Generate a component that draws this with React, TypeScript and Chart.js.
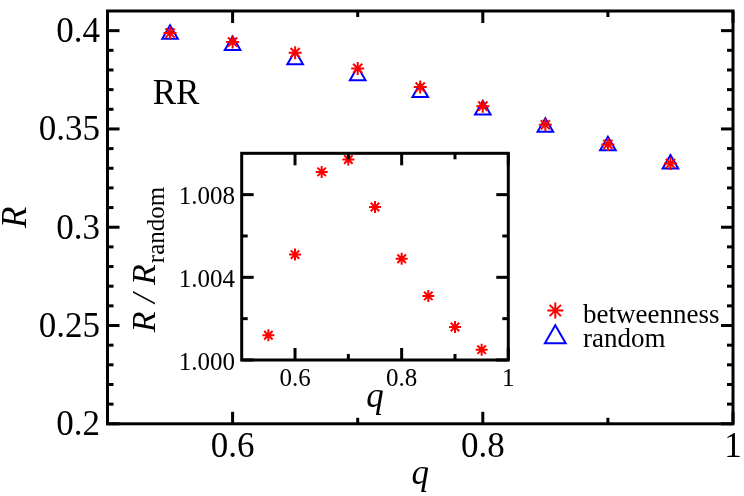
import React, { useEffect, useRef } from 'react';
import { Chart, registerables } from 'chart.js';

Chart.register(...registerables);

// ---- data ----
const qValues = [0.55, 0.6, 0.65, 0.7, 0.75, 0.8, 0.85, 0.9, 0.95];
const betweennessR = [0.3988, 0.3942, 0.3888, 0.3808, 0.3713, 0.3616, 0.3521, 0.3421, 0.3324];
const randomR = [0.3982, 0.3924, 0.3852, 0.377, 0.3685, 0.3597, 0.3509, 0.3415, 0.3322];
const ratioR = [1.0012, 1.0051, 1.0091, 1.0097, 1.0074, 1.0049, 1.0031, 1.0016, 1.0005];

const mainXTicks = [0.6, 0.8, 1];
const mainXTickLabels = ['0.6', '0.8', '1'];
const mainXMinor = [0.7, 0.9];
const mainYTicks = [0.2, 0.25, 0.3, 0.35, 0.4];
const mainYTickLabels = ['0.2', '0.25', '0.3', '0.35', '0.4'];

const insetXTicks = [0.6, 0.8, 1];
const insetXTickLabels = ['0.6', '0.8', '1'];
const insetXMinor = [0.7, 0.9];
const insetYTicks = [1.0, 1.004, 1.008];
const insetYTickLabels = ['1.000', '1.004', '1.008'];
const insetYMinor = [1.002, 1.006];

const seriesNames = ['betweenness', 'random'];

const SERIF = '"Liberation Serif", "Times New Roman", serif';
const RED = '#ff0000';
const BLUE = '#0000ff';

function mainYMinorTicks(): number[] {
  const out: number[] = [];
  for (let i = 21; i < 41; i++) {
    if (i % 5 !== 0) out.push(i / 100);
  }
  return out;
}

type AxisSpec = {
  xMajor: number[];
  xMinor: number[];
  yMajor: number[];
  yMinor: number[];
  xLabels: string[];
  yLabels: string[];
  majorLen: number;
  minorLen: number;
  lineWidth: number;
  font: string;
  xLabelDy: number;
  yLabelGap: number;
  yLabelDy: number;
};

function drawAxes(chart: any, s: AxisSpec) {
  const { ctx, chartArea: a } = chart;
  const xs = chart.scales.x;
  const ys = chart.scales.y;
  ctx.save();
  ctx.strokeStyle = '#000';
  ctx.lineWidth = s.lineWidth;
  ctx.lineCap = 'butt';
  const line = (x1: number, y1: number, x2: number, y2: number) => {
    ctx.beginPath();
    ctx.moveTo(x1, y1);
    ctx.lineTo(x2, y2);
    ctx.stroke();
  };
  const xt = (vals: number[], len: number) => {
    vals.forEach((v) => {
      const px = xs.getPixelForValue(v);
      line(px, a.bottom, px, a.bottom - len);
      line(px, a.top, px, a.top + len);
    });
  };
  const yt = (vals: number[], len: number) => {
    vals.forEach((v) => {
      const py = ys.getPixelForValue(v);
      line(a.left, py, a.left + len, py);
      line(a.right, py, a.right - len, py);
    });
  };
  xt(s.xMajor, s.majorLen);
  xt(s.xMinor, s.minorLen);
  yt(s.yMajor, s.majorLen);
  yt(s.yMinor, s.minorLen);
  ctx.strokeRect(a.left, a.top, a.right - a.left, a.bottom - a.top);

  ctx.fillStyle = '#000';
  ctx.font = s.font;
  ctx.textBaseline = 'alphabetic';
  ctx.textAlign = 'center';
  s.xMajor.forEach((v, i) => {
    ctx.fillText(s.xLabels[i], xs.getPixelForValue(v), a.bottom + s.xLabelDy);
  });
  ctx.textAlign = 'right';
  s.yMajor.forEach((v, i) => {
    ctx.fillText(s.yLabels[i], a.left - s.yLabelGap, ys.getPixelForValue(v) + s.yLabelDy);
  });
  ctx.restore();
}

function drawStar(ctx: CanvasRenderingContext2D, x: number, y: number, r: number) {
  ctx.beginPath();
  for (let k = 0; k < 4; k++) {
    const ang = (k * Math.PI) / 4;
    ctx.moveTo(x - Math.cos(ang) * r, y - Math.sin(ang) * r);
    ctx.lineTo(x + Math.cos(ang) * r, y + Math.sin(ang) * r);
  }
  ctx.stroke();
}

function drawTriangle(ctx: CanvasRenderingContext2D, x: number, y: number, r: number) {
  ctx.beginPath();
  let rad = 0;
  ctx.moveTo(x + Math.sin(rad) * r, y - Math.cos(rad) * r);
  rad += (2 * Math.PI) / 3;
  ctx.lineTo(x + Math.sin(rad) * r, y - Math.cos(rad) * r);
  rad += (2 * Math.PI) / 3;
  ctx.lineTo(x + Math.sin(rad) * r, y - Math.cos(rad) * r);
  ctx.closePath();
  ctx.stroke();
}

const mainPlugin = {
  id: 'mainDecor',
  afterDraw(chart: any) {
    drawAxes(chart, {
      xMajor: mainXTicks,
      xMinor: mainXMinor,
      yMajor: mainYTicks,
      yMinor: mainYMinorTicks(),
      xLabels: mainXTickLabels,
      yLabels: mainYTickLabels,
      majorLen: 12,
      minorLen: 6,
      lineWidth: 3,
      font: `35px ${SERIF}`,
      xLabelDy: 33,
      yLabelGap: 7.5,
      yLabelDy: 11.5,
    });
    const { ctx, chartArea: a } = chart;
    ctx.save();
    ctx.fillStyle = '#000';
    // axis titles
    ctx.font = `italic 35px ${SERIF}`;
    ctx.textAlign = 'center';
    ctx.textBaseline = 'alphabetic';
    ctx.fillText('q', (a.left + a.right) / 2, 484);
    ctx.save();
    ctx.translate(26, (a.top + a.bottom) / 2);
    ctx.rotate(-Math.PI / 2);
    ctx.fillText('R', 0, 0);
    ctx.restore();
    // RR label
    ctx.font = `35px ${SERIF}`;
    ctx.textAlign = 'left';
    ctx.fillText('RR', 152.7, 104.3);
    // legend
    ctx.lineWidth = 2;
    ctx.strokeStyle = RED;
    drawStar(ctx, 555.3, 310.5, 8);
    ctx.strokeStyle = BLUE;
    drawTriangle(ctx, 555.3, 337.2, 12);
    ctx.font = `27px ${SERIF}`;
    ctx.fillStyle = '#000';
    ctx.fillText(seriesNames[0], 583, 323.3);
    ctx.fillText(seriesNames[1], 583, 346.7);
    ctx.restore();
  },
};

const insetPlugin = {
  id: 'insetDecor',
  beforeDraw(chart: any) {
    const { ctx, chartArea: a } = chart;
    ctx.save();
    ctx.fillStyle = '#fff';
    ctx.fillRect(a.left, a.top, a.right - a.left, a.bottom - a.top);
    ctx.restore();
  },
  afterDraw(chart: any) {
    drawAxes(chart, {
      xMajor: insetXTicks,
      xMinor: insetXMinor,
      yMajor: insetYTicks,
      yMinor: insetYMinor,
      xLabels: insetXTickLabels,
      yLabels: insetYTickLabels,
      majorLen: 12,
      minorLen: 6,
      lineWidth: 3,
      font: `25px ${SERIF}`,
      xLabelDy: 26,
      yLabelGap: 6.7,
      yLabelDy: 9.5,
    });
    const { ctx, chartArea: a } = chart;
    ctx.save();
    ctx.fillStyle = '#000';
    ctx.font = `italic 35px ${SERIF}`;
    ctx.textAlign = 'center';
    ctx.textBaseline = 'alphabetic';
    ctx.fillText('q', (a.left + a.right) / 2, 407);
    // y title: R / R_random
    ctx.save();
    ctx.translate(155, 260);
    ctx.rotate(-Math.PI / 2);
    const f1 = `italic 34px ${SERIF}`;
    const f2 = `25px ${SERIF}`;
    const p1 = 'R / R';
    const p2 = 'random';
    ctx.font = f1;
    const w1 = ctx.measureText(p1).width;
    ctx.font = f2;
    const w2 = ctx.measureText(p2).width;
    const start = -(w1 + w2) / 2;
    ctx.textAlign = 'left';
    ctx.font = f1;
    ctx.fillText(p1, start, 0);
    ctx.font = f2;
    ctx.fillText(p2, start + w1 + 1, 9);
    ctx.restore();
    ctx.restore();
  },
};

export default function App() {
  const mainRef = useRef<HTMLCanvasElement>(null);
  const insetRef = useRef<HTMLCanvasElement>(null);

  useEffect(() => {
    const main = new Chart(mainRef.current as HTMLCanvasElement, {
      type: 'scatter',
      data: {
        datasets: [
          {
            label: seriesNames[0],
            data: qValues.map((q, i) => ({ x: q, y: betweennessR[i] })),
            pointStyle: 'star',
            pointRadius: 6.5,
            borderColor: RED,
            backgroundColor: RED,
            borderWidth: 2,
            order: 0,
          },
          {
            label: seriesNames[1],
            data: qValues.map((q, i) => ({ x: q, y: randomR[i] })),
            pointStyle: 'triangle',
            pointRadius: 9,
            borderColor: BLUE,
            backgroundColor: 'rgba(0,0,0,0)',
            borderWidth: 2,
            order: 1,
          },
        ],
      },
      options: {
        responsive: false,
        animation: false,
        devicePixelRatio: 1,
        events: [],
        layout: { padding: { left: 107.5, right: 10.8, top: 4.3, bottom: 72.2 } },
        plugins: { legend: { display: false }, tooltip: { enabled: false } },
        scales: {
          x: { type: 'linear', min: 0.5, max: 1, display: false },
          y: { type: 'linear', min: 0.2, max: 0.41, display: false },
        },
      },
      plugins: [mainPlugin],
    } as any);

    const inset = new Chart(insetRef.current as HTMLCanvasElement, {
      type: 'scatter',
      data: {
        datasets: [
          {
            label: 'R/Rrandom',
            data: qValues.map((q, i) => ({ x: q, y: ratioR[i] })),
            pointStyle: 'star',
            pointRadius: 6,
            borderColor: RED,
            backgroundColor: RED,
            borderWidth: 2,
          },
        ],
      },
      options: {
        responsive: false,
        animation: false,
        devicePixelRatio: 1,
        events: [],
        layout: { padding: { left: 241.7, right: 235.7, top: 153.3, bottom: 136 } },
        plugins: { legend: { display: false }, tooltip: { enabled: false } },
        scales: {
          x: { type: 'linear', min: 0.5, max: 1, display: false },
          y: { type: 'linear', min: 1.0, max: 1.01, display: false },
        },
      },
      plugins: [insetPlugin],
    } as any);

    return () => {
      main.destroy();
      inset.destroy();
    };
  }, []);

  return (
    <div style={{ position: 'absolute', left: 0, top: 0, width: 744, height: 496, background: '#fff' }}>
      <canvas
        ref={mainRef}
        width={744}
        height={496}
        style={{ position: 'absolute', left: 0, top: 0, width: 744, height: 496 }}
      />
      <canvas
        ref={insetRef}
        width={744}
        height={496}
        style={{ position: 'absolute', left: 0, top: 0, width: 744, height: 496 }}
      />
    </div>
  );
}
